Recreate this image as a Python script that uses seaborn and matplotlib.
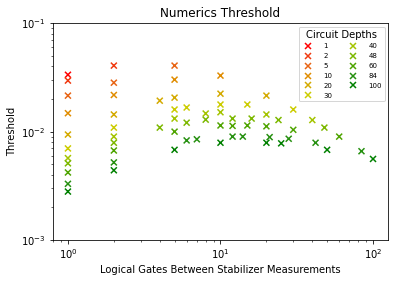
import pandas as pd
import seaborn as sns
import matplotlib.pyplot as plt

# Circuit depths and the thresholds read for each gate spacing
depths = ["1", "2", "5", "10", "20", "30", "40", "48", "60", "84", "100"]

gates_1 = [1]
thr_1 = [0.0335]
gates_2 = [1, 2]
thr_2 = [0.0296, 0.0407]
gates_5 = [1, 2, 5]
thr_5 = [0.0215, 0.0283, 0.0407]
gates_10 = [1, 2, 5, 10]
thr_10 = [0.0148, 0.0218, 0.0302, 0.0329]
gates_20 = [1, 2, 4, 5, 10, 20]
thr_20 = [0.0094, 0.0144, 0.0193, 0.0206, 0.0224, 0.0215]
gates_30 = [1, 2, 5, 6, 10, 15, 30]
thr_30 = [0.0070, 0.0109, 0.0160, 0.0167, 0.0178, 0.0178, 0.0160]
gates_40 = [1, 2, 5, 8, 10, 20, 40]
thr_40 = [0.0057, 0.0090, 0.0132, 0.0147, 0.0151, 0.0144, 0.0128]
gates_48 = [1, 2, 4, 6, 8, 12, 16, 24, 48]
thr_48 = [0.0051, 0.0079, 0.0109, 0.0121, 0.0129, 0.0132, 0.0132, 0.0128, 0.0109]
gates_60 = [1, 2, 5, 10, 12, 15, 20, 30, 60]
thr_60 = [0.0042, 0.0067, 0.0100, 0.0114, 0.0113, 0.0114, 0.0112, 0.0104, 0.0090]
gates_84 = [1, 2, 6, 7, 12, 14, 21, 28, 42, 84]
thr_84 = [0.0033, 0.0052, 0.0083, 0.0085, 0.0090, 0.0090, 0.0089, 0.0086, 0.0079, 0.0066]
gates_100 = [1, 2, 5, 10, 20, 25, 50, 100]
thr_100 = [0.0028, 0.0044, 0.0068, 0.0079, 0.0079, 0.0078, 0.0068, 0.0056]

colors = ["#ff0000", "#f03a10", "#e86414", "#e08c00", "#d4aa00", "#cccc00",
          "#a4c400", "#7cb800", "#4ea400", "#269010", "#008000"]

gates = [gates_1, gates_2, gates_5, gates_10, gates_20, gates_30,
         gates_40, gates_48, gates_60, gates_84, gates_100]
thresholds = [thr_1, thr_2, thr_5, thr_10, thr_20, thr_30,
              thr_40, thr_48, thr_60, thr_84, thr_100]

frames = []
for d, g, t in zip(depths, gates, thresholds):
    frames.append(pd.DataFrame({"gates": g, "threshold": t, "depth": d}))
df = pd.concat(frames, ignore_index=True)

fig = plt.figure(figsize=(394 / 72, 282 / 72), dpi=72)
ax = fig.add_axes([0.1337, 0.1489, 0.8518, 0.7685])

sns.scatterplot(data=df, x="gates", y="threshold", hue="depth",
                hue_order=depths, palette=dict(zip(depths, colors)),
                marker="x", s=36, linewidth=1.5, ax=ax)

ax.set_xscale("log")
ax.set_yscale("log")
ax.set_ylim(1e-3, 1e-1)
ax.set_title("Numerics Threshold", fontsize=12)
ax.set_xlabel("Logical Gates Between Stabilizer Measurements", fontsize=10)
ax.set_ylabel("Threshold", fontsize=10)
ax.tick_params(labelsize=10)

sns.move_legend(ax, "upper right", ncol=2, title="Circuit Depths",
                fontsize=7, frameon=True,
                labelspacing=0.55, handletextpad=1.15, columnspacing=2.0)
ax.get_legend().get_title().set_fontsize(10)

fig.savefig("out.png", dpi=72)
